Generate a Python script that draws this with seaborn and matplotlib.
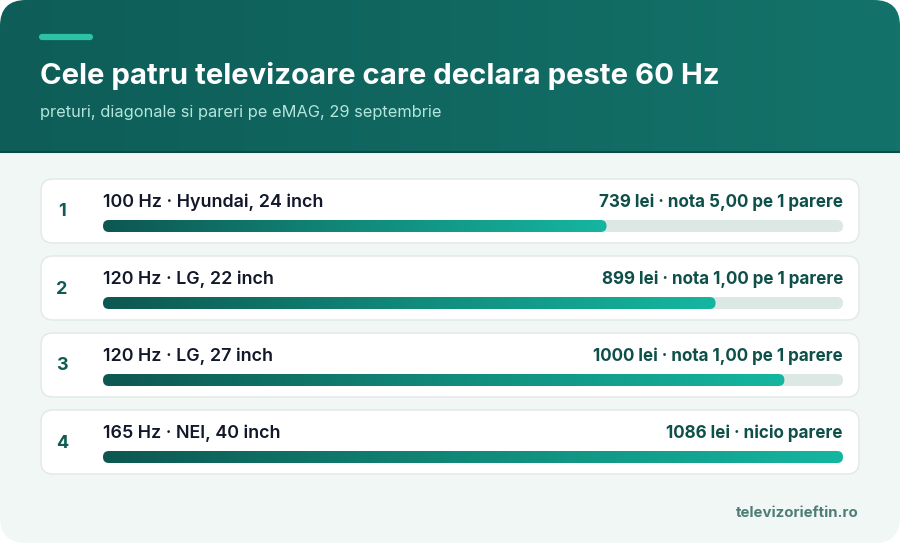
import matplotlib
matplotlib.use("Agg")
import matplotlib.pyplot as plt
import seaborn as sns
import numpy as np
import pandas as pd
from matplotlib.patches import FancyBboxPatch
from matplotlib.colors import LinearSegmentedColormap

# date
ranks = ["1", "2", "3", "4"]
models = ["100 Hz · Hyundai, 24 inch", "120 Hz · LG, 22 inch",
          "120 Hz · LG, 27 inch", "165 Hz · NEI, 40 inch"]
prices = [739, 899, 1000, 1086]
notes = ["nota 5,00 pe 1 parere", "nota 1,00 pe 1 parere",
         "nota 1,00 pe 1 parere", "nicio parere"]

title = "Cele patru televizoare care declara peste 60 Hz"
subtitle = "preturi, diagonale si pareri pe eMAG, 29 septembrie"
footer = "televizorieftin.ro"

df = pd.DataFrame({"model": models, "pret": prices})

sns.set_theme(style="white")
plt.rcParams["font.family"] = ["Inter", "DejaVu Sans"]

W, H = 900, 543
fig = plt.figure(figsize=(W / 100, H / 100), dpi=100)
fig.patch.set_facecolor("white")

# fundal, coordonate in pixeli
bg = fig.add_axes([0, 0, 1, 1])
bg.set_xlim(0, W)
bg.set_ylim(H, 0)
bg.axis("off")

outer = FancyBboxPatch((0, 0), W, H, boxstyle="round,pad=0,rounding_size=26",
                       fc="#f1f7f5", ec="none", zorder=0)
bg.add_patch(outer)

hdr_cmap = LinearSegmentedColormap.from_list("hdr", ["#0e5d58", "#13736a"])
grad = np.linspace(0, 1, 256).reshape(1, -1)
im = bg.imshow(grad, extent=(0, W, 151, 0), cmap=hdr_cmap, aspect="auto", zorder=1)
im.set_clip_path(outer)
bg.plot([0, W], [151.5, 151.5], color="#0b4c47", lw=1.5, zorder=2)

bg.plot([42, 90], [37, 37], color="#2cc2a8", lw=4.5, solid_capstyle="round", zorder=3)
bg.text(40, 76, title, color="white", fontsize=21.1, fontweight="bold",
        va="center", ha="left", zorder=3)
bg.text(40, 112, subtitle, color="#b4e6dc", fontsize=11.8, va="center", ha="left", zorder=3)

# carduri
card_top0, step, card_h = 179, 77, 64
for i in range(len(models)):
    top = card_top0 + i * step
    bg.add_patch(FancyBboxPatch((41, top), 818, card_h,
                                boxstyle="round,pad=0,rounding_size=12",
                                fc="white", ec="#e1e8e6", lw=1, zorder=2))
    bg.text(62, top + 33, ranks[i], color="#0f5c55", fontsize=13,
            fontweight="bold", ha="center", va="center", zorder=3)
    bg.text(103, top + 23, models[i], color="#121829", fontsize=12.9,
            fontweight="semibold", ha="left", va="center", zorder=3)
    bg.text(843, top + 23, f"{prices[i]} lei · {notes[i]}", color="#0e4f49",
            fontsize=12.25, fontweight="bold", ha="right", va="center", zorder=3)

bg.text(859, 513, footer, color="#4e7d76", fontsize=10.8, fontweight="bold",
        ha="right", va="center", zorder=3)

# axa pentru bare: x 103..843 px, bare centrate pe 226 + i*77 px
x0, x1 = 103, 843
y_top, y_bot = 179, 474
ax = fig.add_axes([x0 / W, (H - y_bot) / H, (x1 - x0) / W, (y_bot - y_top) / H])
ax.patch.set_alpha(0)
vmax = max(prices)
bar_c0 = 226
ylo = (y_top - bar_c0) / step
yhi = (y_bot - bar_c0) / step
bar_h = 12 / step

sns.barplot(data=df, x="pret", y="model", orient="h", width=bar_h, ax=ax)
ax.set_xlim(0, vmax)
ax.set_ylim(yhi, ylo)
ax.axis("off")

xu_per_px = vmax / (x1 - x0)
yu_per_px = 1 / step
aspect = yu_per_px / xu_per_px
bar_cmap = LinearSegmentedColormap.from_list("bar", ["#0d5751", "#118a7a", "#15b6a0"])

for p in list(ax.patches):
    x, y, w, h = p.get_x(), p.get_y(), p.get_width(), p.get_height()
    p.set_visible(False)
    track = FancyBboxPatch((0, y), vmax, h,
                           boxstyle=f"round,pad=0,rounding_size={6 * xu_per_px}",
                           mutation_aspect=aspect, fc="#dce8e4", ec="none", zorder=2)
    ax.add_patch(track)
    fill = FancyBboxPatch((x, y), w, h,
                          boxstyle=f"round,pad=0,rounding_size={6 * xu_per_px}",
                          mutation_aspect=aspect, fc="none", ec="none", zorder=3)
    ax.add_patch(fill)
    gi = ax.imshow(grad, extent=(x, x + w, y + h, y), cmap=bar_cmap,
                   aspect="auto", zorder=3)
    gi.set_clip_path(fill)

ax.set_xlim(0, vmax)
ax.set_ylim(yhi, ylo)

fig.savefig("out.png", dpi=100, facecolor=fig.get_facecolor())
